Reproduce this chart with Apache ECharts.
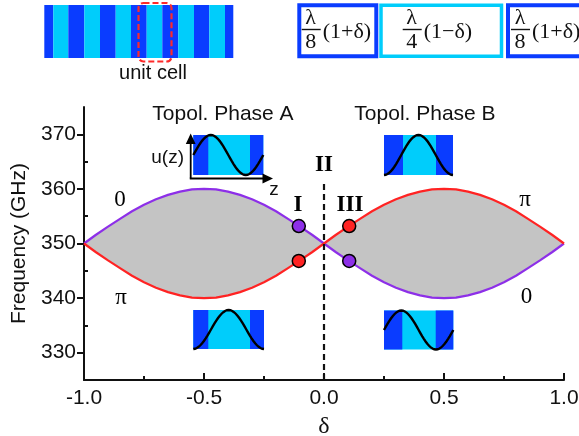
<!DOCTYPE html>
<html>
<head>
<meta charset="utf-8">
<script src="https://cdn.jsdelivr.net/npm/echarts@6/dist/echarts.min.js"></script>
<style>
  html, body { margin: 0; padding: 0; background: #fff; }
  #chart { width: 579px; height: 436px; }
</style>
</head>
<body>
<div id="chart"></div>
<script>
// Dimerization parameter delta (x) and the two band-edge frequencies (GHz)
const deltas = [
  -1.00, -0.95, -0.90, -0.85, -0.80, -0.75, -0.70, -0.65, -0.60, -0.55,
  -0.50, -0.45, -0.40, -0.35, -0.30, -0.25, -0.20, -0.15, -0.10, -0.05,
   0.00,  0.05,  0.10,  0.15,  0.20,  0.25,  0.30,  0.35,  0.40,  0.45,
   0.50,  0.55,  0.60,  0.65,  0.70,  0.75,  0.80,  0.85,  0.90,  0.95, 1.00
];
// Band edge with zero-phase mode profile (purple)
const edgeZero = [
  350.0, 351.6, 353.1, 354.5, 355.9, 357.1, 358.1, 358.9, 359.5, 359.9,
  360.0, 359.9, 359.5, 358.9, 358.1, 357.1, 355.9, 354.5, 353.1, 351.6,
  350.0, 348.4, 346.9, 345.5, 344.1, 342.9, 341.9, 341.1, 340.5, 340.1,
  340.0, 340.1, 340.5, 341.1, 341.9, 342.9, 344.1, 345.5, 346.9, 348.4, 350.0
];
// Band edge with pi-phase mode profile (red)
const edgePi = [
  350.0, 348.4, 346.9, 345.5, 344.1, 342.9, 341.9, 341.1, 340.5, 340.1,
  340.0, 340.1, 340.5, 341.1, 341.9, 342.9, 344.1, 345.5, 346.9, 348.4,
  350.0, 351.6, 353.1, 354.5, 355.9, 357.1, 358.1, 358.9, 359.5, 359.9,
  360.0, 359.9, 359.5, 358.9, 358.1, 357.1, 355.9, 354.5, 353.1, 351.6, 350.0
];
// Highlighted mode frequencies at delta = -0.105 (I) and +0.105 (III)
const markedDelta = [-0.105, 0.105];
const zeroMarked = [353.2, 346.8];
const piMarked = [346.8, 353.2];

// Axis ticks
const yMajorTicks = [330, 340, 350, 360, 370];
const yMinorTicks = [335, 345, 355, 365];

// Text annotations placed in data coordinates: [delta, GHz, text, bold]
const annotations = [
  [-0.108, 357.1, 'I', true],
  [0.0, 364.4, 'II', true],
  [0.108, 357.1, 'III', true],
  [-0.85, 358.0, '0', false],
  [-0.846, 340.1, 'π', false],
  [0.8375, 358.0, 'π', false],
  [0.844, 340.3, '0', false]
];

const PURPLE = '#8d2fe8';
const RED = '#ff2323';
const DARK = '#0a3cff';
const LIGHT = '#00cdfb';
const SANS = '"Liberation Sans", Arial, sans-serif';
const SERIF = '"Liberation Serif", "Times New Roman", serif';

// ---------- decorative graphics ----------
function wavePoints(x0, w, yc, amp, kind) {
  // sampled schematic mode profile across one unit cell
  const pts = [];
  const n = 40;
  for (let k = 0; k <= n; k++) {
    const t = k / n;
    const v = kind === 'sin' ? Math.sin(2 * Math.PI * t) : -Math.cos(2 * Math.PI * t);
    pts.push([x0 + w * t, yc - amp * v]);
  }
  return pts;
}

function cellInset(x0, y0, w, h, d1, d2, kind) {
  return [
    { type: 'rect', shape: { x: x0, y: y0, width: w, height: h }, style: { fill: LIGHT } },
    { type: 'rect', shape: { x: x0, y: y0, width: d1, height: h }, style: { fill: DARK } },
    { type: 'rect', shape: { x: x0 + w - d2, y: y0, width: d2, height: h }, style: { fill: DARK } },
    { type: 'polyline', shape: { points: wavePoints(x0, w, y0 + h / 2, h / 2, kind) },
      style: { stroke: '#000', lineWidth: 2.4, fill: null } }
  ];
}

function stripeBar() {
  const edges = [44.3, 53.3, 68.3, 84.3, 100, 115.7, 131, 146.7, 162.3, 178.3, 194, 209.3, 225, 233.3];
  const els = [];
  for (let i = 0; i < edges.length - 1; i++) {
    els.push({ type: 'rect', shape: { x: edges[i], y: 5, width: edges[i + 1] - edges[i], height: 53 },
      style: { fill: i % 2 === 0 ? DARK : LIGHT } });
  }
  els.push({ type: 'rect', shape: { x: 138.5, y: 3, width: 33, height: 58.5, r: 5 },
    style: { fill: null, stroke: '#ff2a2a', lineWidth: 2.2, lineDash: [6, 3] } });
  els.push({ type: 'text', x: 153, y: 73, style: { text: 'unit cell', font: '20px ' + SANS, fill: '#111', align: 'center', verticalAlign: 'middle' } });
  return els;
}

function cellBox(x0, w, color, lw) {
  return [{ type: 'rect', shape: { x: x0, y: 5.3, width: w, height: 51 },
    style: { fill: null, stroke: color, lineWidth: lw } }];
}

function fraction(cx, denom, tailText) {
  return [
    { type: 'text', x: cx, y: 18.5, style: { text: 'λ', font: '22px ' + SERIF, fill: '#111', align: 'center', verticalAlign: 'middle' } },
    { type: 'line', shape: { x1: cx - 9, y1: 29.5, x2: cx + 10, y2: 29.5 }, style: { stroke: '#111', lineWidth: 1.4 } },
    { type: 'text', x: cx, y: 42.5, style: { text: denom, font: '22px ' + SERIF, fill: '#111', align: 'center', verticalAlign: 'middle' } },
    { type: 'text', x: cx + 12, y: 32, style: { text: tailText, font: '22px ' + SERIF, fill: '#111', align: 'left', verticalAlign: 'middle' } }
  ];
}

const graphics = [].concat(
  stripeBar(),
  cellBox(299.3, 77, DARK, 4),
  cellBox(381, 120.5, LIGHT, 3.5),
  cellBox(508, 77, DARK, 4),
  fraction(310.7, '8', '(1+δ)'),
  fraction(411.7, '4', '(1−δ)'),
  fraction(520, '8', '(1+δ)'),
  [
    { type: 'text', x: 223, y: 114, style: { text: 'Topol. Phase A', font: '21px ' + SANS, fill: '#111', align: 'center', verticalAlign: 'middle' } },
    { type: 'text', x: 425, y: 114, style: { text: 'Topol. Phase B', font: '21px ' + SANS, fill: '#111', align: 'center', verticalAlign: 'middle' } }
  ],
  cellInset(193.3, 135, 70, 40, 15, 13.3, 'sin'),
  cellInset(384, 135, 69, 40, 19, 17, 'cos'),
  cellInset(193.3, 310, 70.7, 39, 15, 14, 'cos'),
  cellInset(384, 310.5, 69.3, 39, 18.3, 17.6, 'sin'),
  [
    // u(z) axes on the upper-left inset
    { type: 'line', shape: { x1: 190.7, y1: 178.5, x2: 190.7, y2: 142 }, style: { stroke: '#000', lineWidth: 1.8 } },
    { type: 'polygon', shape: { points: [[190.7, 133.5], [185.8, 144], [195.6, 144]] }, style: { fill: '#000' } },
    { type: 'line', shape: { x1: 189.8, y1: 178.5, x2: 264, y2: 178.5 }, style: { stroke: '#000', lineWidth: 1.8 } },
    { type: 'polygon', shape: { points: [[273, 178.5], [262.5, 173.6], [262.5, 183.4]] }, style: { fill: '#000' } },
    { type: 'text', x: 184, y: 157.5, style: { text: 'u(z)', font: '19px ' + SANS, fill: '#111', align: 'right', verticalAlign: 'middle' } },
    { type: 'text', x: 274, y: 190, style: { text: 'z', font: '19px ' + SANS, fill: '#111', align: 'center', verticalAlign: 'middle' } }
  ]
);

const chart = echarts.init(document.getElementById('chart'), null, { renderer: 'canvas' });

const axisText = { fontFamily: SANS, fontSize: 21, color: '#111' };

chart.setOption({
  animation: false,
  backgroundColor: '#fff',
  grid: { left: 84, right: 15, top: 107, bottom: 56, containLabel: false, outerBoundsMode: 'none' },
  xAxis: {
    type: 'value', min: -1, max: 1, interval: 0.5,
    name: 'δ', nameLocation: 'middle', nameGap: 35,
    nameTextStyle: { fontFamily: SERIF, fontSize: 24, color: '#111' },
    axisLine: { show: true, onZero: false, lineStyle: { color: '#111', width: 2 } },
    axisTick: { show: true, inside: true, length: 7, lineStyle: { color: '#111', width: 2 } },
    minorTick: { show: true, splitNumber: 2, length: 4, lineStyle: { color: '#111', width: 2 } },
    axisLabel: Object.assign({ margin: 8, formatter: v => v.toFixed(1) }, axisText),
    splitLine: { show: false }
  },
  yAxis: [
    {
      type: 'value', min: 325, max: 375, interval: 5,
      name: 'Frequency (GHz)', nameLocation: 'middle', nameGap: 54,
      nameTextStyle: { fontFamily: SANS, fontSize: 21, color: '#111' },
      axisLine: { show: true, onZero: false, lineStyle: { color: '#111', width: 2 } },
      axisTick: { show: true, inside: false, length: 7, customValues: yMajorTicks, lineStyle: { color: '#111', width: 2 } },
      axisLabel: Object.assign({ margin: 8, customValues: yMajorTicks }, axisText),
      splitLine: { show: false }
    },
    {
      type: 'value', min: 325, max: 375, interval: 5, position: 'left', offset: 0,
      axisLine: { show: false, onZero: false },
      axisTick: { show: true, inside: true, length: 4, customValues: yMinorTicks, lineStyle: { color: '#111', width: 2 } },
      axisLabel: { show: false },
      splitLine: { show: false }
    }
  ],
  graphic: graphics,
  series: [
    {
      // gray region enclosed by the two band edges
      name: 'band', type: 'custom', silent: true, z: 1,
      data: [0],
      renderItem: function (params, api) {
        const pts = [];
        for (let i = 0; i < deltas.length; i++) pts.push(api.coord([deltas[i], edgeZero[i]]));
        for (let i = deltas.length - 1; i >= 0; i--) pts.push(api.coord([deltas[i], edgePi[i]]));
        return { type: 'polygon', shape: { points: pts }, style: { fill: '#c4c4c4', stroke: null } };
      }
    },
    {
      name: 'zero edge', type: 'line', data: deltas.map((d, i) => [d, edgeZero[i]]),
      symbol: 'none', lineStyle: { color: PURPLE, width: 2.2 }, z: 3
    },
    {
      name: 'pi edge', type: 'line', data: deltas.map((d, i) => [d, edgePi[i]]),
      symbol: 'none', lineStyle: { color: RED, width: 2.2 }, z: 3,
      markLine: {
        silent: true, symbol: 'none', label: { show: false },
        lineStyle: { color: '#111', width: 2.2, type: [6, 4] },
        data: [[{ coord: [0, 325] }, { coord: [0, 361.2] }]]
      }
    },
    {
      name: 'zero modes', type: 'scatter', data: markedDelta.map((d, i) => [d, zeroMarked[i]]),
      symbolSize: 13, itemStyle: { color: PURPLE, borderColor: '#000', borderWidth: 1.5, opacity: 1 }, z: 5
    },
    {
      name: 'pi modes', type: 'scatter', data: markedDelta.map((d, i) => [d, piMarked[i]]),
      symbolSize: 13, itemStyle: { color: RED, borderColor: '#000', borderWidth: 1.5, opacity: 1 }, z: 5
    },
    {
      name: 'annotations', type: 'scatter', symbolSize: 0, silent: true, z: 6,
      itemStyle: { opacity: 1 },
      data: annotations.map(a => ({
        value: [a[0], a[1]],
        label: {
          show: true, position: 'inside', formatter: a[2],
          fontFamily: SERIF, fontSize: 23, fontWeight: a[3] ? 'bold' : 'normal', color: '#000'
        }
      }))
    }
  ]
});
</script>
</body>
</html>
